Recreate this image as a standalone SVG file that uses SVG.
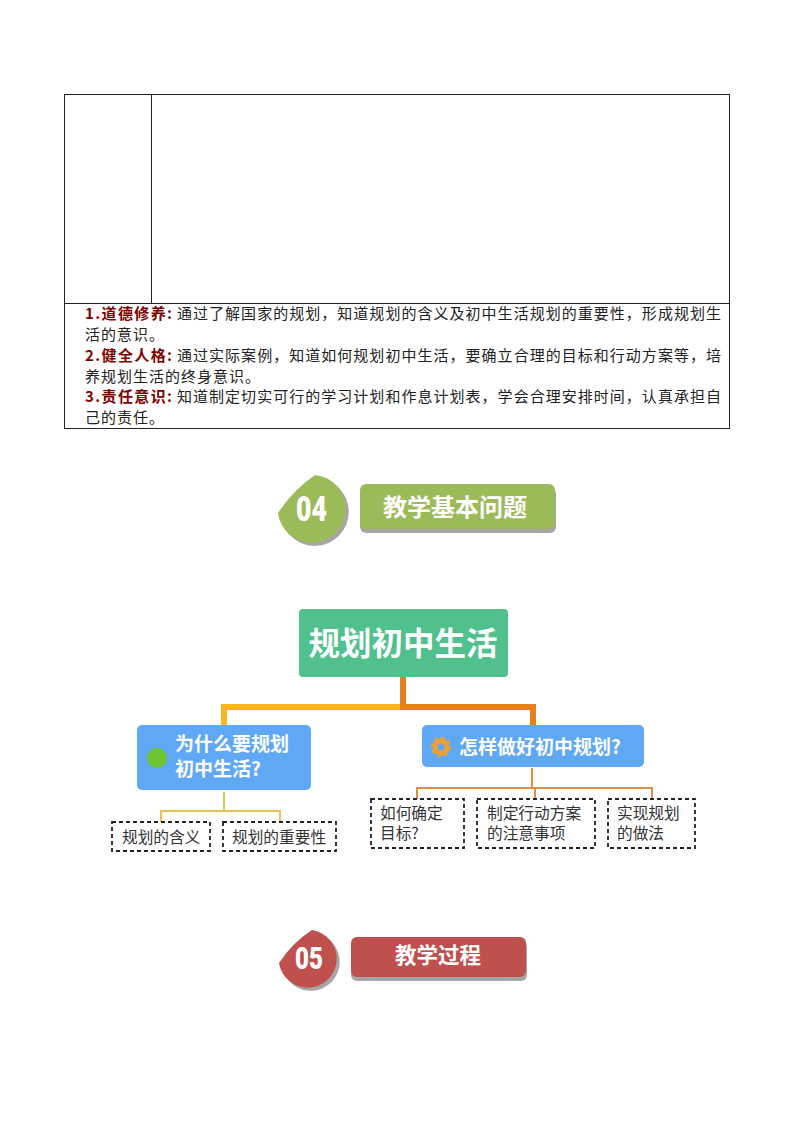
<svg xmlns="http://www.w3.org/2000/svg" width="794" height="1123" viewBox="0 0 794 1123">
<style>
text{font-family:"Noto Sans CJK SC","Liberation Sans",sans-serif}
.tl{fill:none;stroke:#222;stroke-width:1}
.body{font-size:15px;fill:#222}
.s{letter-spacing:1px}
.lab{font-size:15px;font-weight:700;fill:#800000}
.w{fill:#fff;font-weight:700;text-anchor:middle}
.num{font-family:"Roboto","Liberation Sans",sans-serif;fill:#fff;font-weight:900}
.blue{fill:#5FA8F5}
.dash{fill:#fff;stroke:#222;stroke-width:1.8;stroke-dasharray:4 3}
.sub{font-size:15.7px;fill:#333}
.bt{font-size:19px;fill:#fff;font-weight:700}
.c{fill:none}
</style>
<rect width="794" height="1123" fill="#fff"/>
<g id="table">
<rect class="tl" x="64.5" y="94.5" width="665" height="334"/>
<path class="tl" d="M151.5 95V303M65 303.5H729"/>
<text class="lab" x="85" y="319" textLength="87" lengthAdjust="spacing">1.道德修养:</text>
<text class="body" x="177" y="319" textLength="544" lengthAdjust="spacing">通过了解国家的规划，知道规划的含义及初中生活规划的重要性，形成规划生</text>
<text class="body s" x="85" y="340">活的意识。</text>
<text class="lab" x="85" y="361" textLength="87" lengthAdjust="spacing">2.健全人格:</text>
<text class="body" x="177" y="361" textLength="544" lengthAdjust="spacing">通过实际案例，知道如何规划初中生活，要确立合理的目标和行动方案等，培</text>
<text class="body s" x="85" y="382">养规划生活的终身意识。</text>
<text class="lab" x="85" y="402" textLength="87" lengthAdjust="spacing">3.责任意识:</text>
<text class="body" x="177" y="402" textLength="544" lengthAdjust="spacing">知道制定切实可行的学习计划和作息计划表，学会合理安排时间，认真承担自</text>
<text class="body s" x="85" y="423">己的责任。</text>
</g>
<g id="badge-04">
<path fill="#A6A6A6" d="M317 478A34 34 0 1 1 281 516Q296 492 317 478Z"/>
<path fill="#9BBB59" d="M315 475A34 34 0 1 1 278 513Q293 490 315 475Z"/>
<text class="num" x="296" y="521" font-size="35" textLength="31" lengthAdjust="spacingAndGlyphs">04</text>
<rect x="360" y="488" width="196" height="45" rx="6" fill="#A6A6A6"/>
<rect x="360" y="484" width="195" height="45" rx="6" fill="#9BBB59"/>
<text class="w" x="455" y="515.500" font-size="24">教学基本问题</text>
</g>
<g id="connectors" class="c">
<path stroke="#FBB522" stroke-width="6" d="M403 707H224V725"/>
<path stroke="#E67E22" stroke-width="6" d="M403 677V707H533V725"/>
<path stroke="#EDBE52" stroke-width="2" d="M224 792V811M161 822V811H280V822"/>
<path stroke="#DF8E45" stroke-width="2" d="M532 768V788M417 799V788H652V799M535 788V799"/>
</g>
<g id="root">
<rect x="299" y="609" width="209" height="68" rx="4" fill="#50C08D"/>
<text class="w" x="403" y="655" font-size="31.500">规划初中生活</text>
</g>
<g id="why">
<rect class="blue" x="137" y="725" width="174" height="65" rx="5"/>
<circle cx="157" cy="758" r="10" fill="#6CC531"/>
<text class="bt" x="175" y="751">为什么要规划</text>
<text class="bt" x="175" y="776">初中生活?</text>
</g>
<g id="how">
<rect class="blue" x="422" y="725" width="222" height="42" rx="5"/>
<circle cx="441" cy="747" r="6" fill="none" stroke="#F0A030" stroke-width="5"/>
<circle cx="441" cy="747" r="9" fill="none" stroke="#F0A030" stroke-width="2.500" stroke-dasharray="3.500 3.570"/>
<text class="bt" x="459" y="754">怎样做好初中规划?</text>
</g>
<g id="leaf-1"><rect class="dash" x="112" y="822" width="98" height="29"/><text class="sub" x="122" y="842.500">规划的含义</text></g>
<g id="leaf-2"><rect class="dash" x="223" y="822" width="113" height="29"/><text class="sub" x="232" y="842.500">规划的重要性</text></g>
<g id="leaf-3"><rect class="dash" x="371" y="799" width="93" height="49"/><text class="sub" x="380" y="818.500">如何确定</text><text class="sub" x="380" y="838.500">目标?</text></g>
<g id="leaf-4"><rect class="dash" x="477" y="799" width="118" height="49"/><text class="sub" x="487" y="818.500">制定行动方案</text><text class="sub" x="487" y="838.500">的注意事项</text></g>
<g id="leaf-5"><rect class="dash" x="608" y="799" width="87" height="49"/><text class="sub" x="617" y="818.500">实现规划</text><text class="sub" x="617" y="838.500">的做法</text></g>
<g id="badge-05">
<path fill="#A6A6A6" d="M314 933A29 29 0 1 1 282 966Q295 946 314 933Z"/>
<path fill="#C0504D" d="M312 930A29 29 0 1 1 279 963Q292 943 312 930Z"/>
<text class="num" x="295" y="969" font-size="31" textLength="28" lengthAdjust="spacingAndGlyphs">05</text>
<rect x="351" y="941" width="176" height="40" rx="6" fill="#A6A6A6"/>
<rect x="351" y="937" width="175" height="40" rx="6" fill="#C0504D"/>
<text class="w" x="438" y="962.500" font-size="21.500">教学过程</text>
</g>
</svg>
